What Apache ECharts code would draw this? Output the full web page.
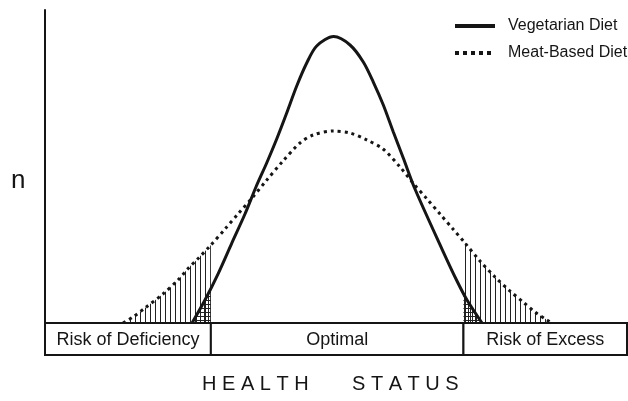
<!DOCTYPE html>
<html>
<head>
<meta charset="utf-8">
<script src="https://cdn.jsdelivr.net/npm/echarts@6/dist/echarts.min.js"></script>
<style>
html, body { margin: 0; padding: 0; background: #fff; }
#main { width: 628px; height: 401px; }
</style>
</head>
<body>
<div id="main"></div>
<script>
// points: [health status, n]
const vegetarian = [
  [25.26, 0], [27.49, 7.35], [29.78, 15.88], [32.08, 25.46], [34.36, 34.82], [36.25, 43.45],
  [38.09, 51.12], [39.81, 58.79], [41.53, 67.09], [43.25, 75.72], [44.97, 83.07], [46.68, 88.5],
  [49.6, 91.5], [52.41, 88.82], [54.69, 83.39], [56.41, 76.99], [58.13, 69.65], [59.85, 61.02],
  [61.56, 52.72], [63.57, 42.81], [68.21, 23.64], [70.79, 13.42], [72.51, 7.35], [75.09, 0]
]
const meatBased = [
  [13.4, 0], [15.12, 1.92], [17.18, 4.79], [20.27, 9.27], [22.85, 13.74], [24.62, 17.47],
  [26.34, 20.67], [28.35, 24.6], [30.93, 30.03], [33.16, 34.82], [35.57, 39.94], [37.97, 45.37],
  [40.89, 51.76], [43.81, 57.51], [46.05, 60.06], [49.48, 61.34], [52.41, 60.7], [55.27, 58.5],
  [58.08, 55.59], [61.0, 49.84], [63.23, 44.73], [65.64, 39.62], [67.87, 34.82], [70.1, 30.03],
  [72.16, 25.56], [74.74, 19.81], [77.32, 14.7], [79.9, 10.22], [82.13, 6.71], [84.19, 3.51],
  [86.25, 0.96], [87.11, 0]
]
// hatched tails outside the optimal zone
const meatLowTail = [
  [13.4, 0], [15.12, 1.92], [17.18, 4.79], [20.27, 9.27], [22.85, 13.74], [24.62, 17.47],
  [26.34, 20.67], [28.5, 24.9]
]
const meatHighTail = [
  [71.9, 26.3], [74.74, 19.81], [77.32, 14.7], [79.9, 10.22], [82.13, 6.71], [84.19, 3.51],
  [86.25, 0.96], [87.11, 0]
]
const vegLowTail = [[25.26, 0], [27.49, 7.35], [28.5, 11.2]]
const vegHighTail = [[71.9, 9.9], [72.51, 7.35], [75.09, 0]]

const zoneEdges = [0, 28.5, 71.9, 100]
const zoneNames = ['Risk of Deficiency', 'Optimal', 'Risk of Excess']

const INK = '#151515'
const FONT = '"Liberation Sans", Arial, sans-serif'

// small canvas tiles for the hatching
function hatch (w, h, cross) {
  const c = document.createElement('canvas')
  c.width = w
  c.height = h
  const ctx = c.getContext('2d')
  ctx.fillStyle = '#222'
  ctx.fillRect(0, 0, 1, h)
  if (cross) ctx.fillRect(0, 0, w, 1)
  return c
}
const lines = { image: hatch(5, 5, false), repeat: 'repeat' }
const grid = { image: hatch(4, 4, true), repeat: 'repeat' }

function tail (name, data, fill) {
  return {
    name: name,
    type: 'line',
    data: data,
    smooth: 0.3,
    symbol: 'none',
    silent: true,
    lineStyle: { width: 0 },
    areaStyle: { color: fill, opacity: 1 },
    z: 1
  }
}

const zones = zoneNames.map((n, i) => [zoneEdges[i], zoneEdges[i + 1]])

const myChart = echarts.init(document.getElementById('main'))
myChart.setOption({
  animation: false,
  grid: { left: 45, right: 1, top: 10, bottom: 78 },
  xAxis: { type: 'value', min: 0, max: 100, show: false },
  yAxis: {
    type: 'value',
    min: 0,
    max: 100,
    axisLine: { show: true, lineStyle: { color: INK, width: 2 } },
    axisTick: { show: false },
    axisLabel: { show: false },
    splitLine: { show: false }
  },
  legend: {
    orient: 'vertical',
    left: 453,
    top: 18,
    padding: 0,
    itemWidth: 40,
    itemHeight: 16,
    itemGap: 11,
    selectedMode: false,
    textStyle: { fontFamily: FONT, fontSize: 16, color: INK, padding: [0, 0, 0, 8] },
    data: [
      { name: 'Vegetarian Diet', itemStyle: { opacity: 0 }, lineStyle: { width: 4 } },
      { name: 'Meat-Based Diet', itemStyle: { opacity: 0 }, lineStyle: { width: 4, type: [4, 4] } }
    ]
  },
  graphic: [
    { type: 'text', left: 11, top: 168, style: { text: 'n', font: '26px ' + FONT, fill: INK } },
    { type: 'text', left: 202, top: 374, style: { text: 'H E A L T H', font: '20px ' + FONT, fill: INK } },
    { type: 'text', left: 352, top: 374, style: { text: 'S T A T U S', font: '20px ' + FONT, fill: INK } }
  ],
  series: [
    tail('lowHatch', meatLowTail, lines),
    tail('highHatch', meatHighTail, lines),
    tail('lowCross', vegLowTail, grid),
    tail('highCross', vegHighTail, grid),
    {
      name: 'Meat-Based Diet',
      type: 'line',
      data: meatBased,
      smooth: 0.3,
      symbol: 'none',
      lineStyle: { color: INK, width: 3, type: [3, 4] },
      itemStyle: { color: INK },
      z: 3
    },
    {
      name: 'Vegetarian Diet',
      type: 'line',
      data: vegetarian,
      smooth: 0.3,
      symbol: 'none',
      lineStyle: { color: INK, width: 3 },
      itemStyle: { color: INK },
      z: 4
    },
    {
      type: 'custom',
      silent: true,
      data: zones,
      encode: { x: [0, 1] },
      z: 5,
      renderItem (params, api) {
        const a = api.coord([api.value(0), 0])
        const b = api.coord([api.value(1), 0])
        return {
          type: 'group',
          children: [
            {
              type: 'rect',
              shape: { x: a[0], y: a[1], width: b[0] - a[0], height: 32 },
              style: { fill: '#fff', stroke: INK, lineWidth: 2 }
            },
            {
              type: 'text',
              style: {
                text: zoneNames[params.dataIndex],
                x: (a[0] + b[0]) / 2,
                y: a[1] + 17,
                align: 'center',
                verticalAlign: 'middle',
                font: '18px ' + FONT,
                fill: INK
              }
            }
          ]
        }
      }
    }
  ]
})
</script>
</body>
</html>
